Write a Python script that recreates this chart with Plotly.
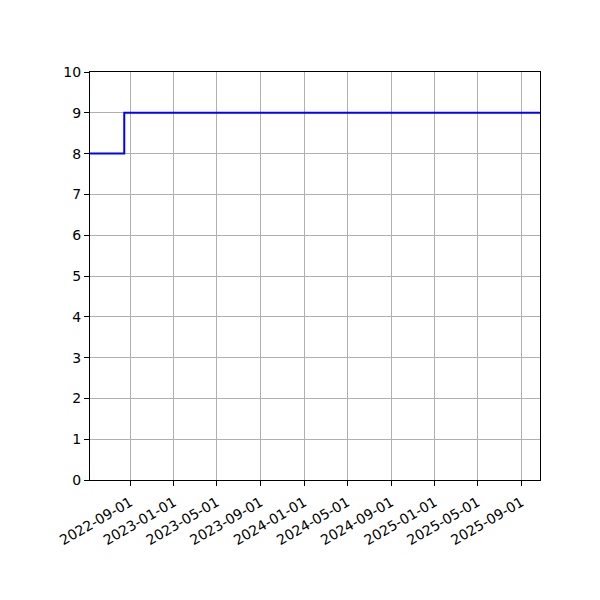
import plotly.graph_objects as go

dates = ["2022-05-11", "2022-08-15", "2025-10-23"]
values = [8, 9, 9]
tick_dates = ["2022-09-01", "2023-01-01", "2023-05-01", "2023-09-01", "2024-01-01",
              "2024-05-01", "2024-09-01", "2025-01-01", "2025-05-01", "2025-09-01"]
y_ticks = list(range(0, 11))

fig = go.Figure()
fig.add_trace(go.Scatter(x=dates, y=values, mode="lines", line_shape="hv",
                         line=dict(color="#0000ff", width=2), showlegend=False))

axis_common = dict(showline=True, linecolor="black", linewidth=1, mirror=True,
                   ticks="outside", ticklen=5, tickcolor="black", tickwidth=1,
                   showgrid=True, gridcolor="#b0b0b0", gridwidth=1, zeroline=False,
                   tickfont=dict(family="DejaVu Sans", size=14, color="black"))

fig.update_layout(
    width=600, height=600,
    margin=dict(l=82, r=68, t=64, b=128),
    plot_bgcolor="white", paper_bgcolor="white",
    xaxis=dict(range=["2022-05-11", "2025-10-23"], tickvals=tick_dates, ticktext=tick_dates,
               tickangle=-30, ticklabelstandoff=3, **axis_common),
    yaxis=dict(range=[0, 10], tickvals=y_ticks, **axis_common),
)

fig.write_html("out.html")
